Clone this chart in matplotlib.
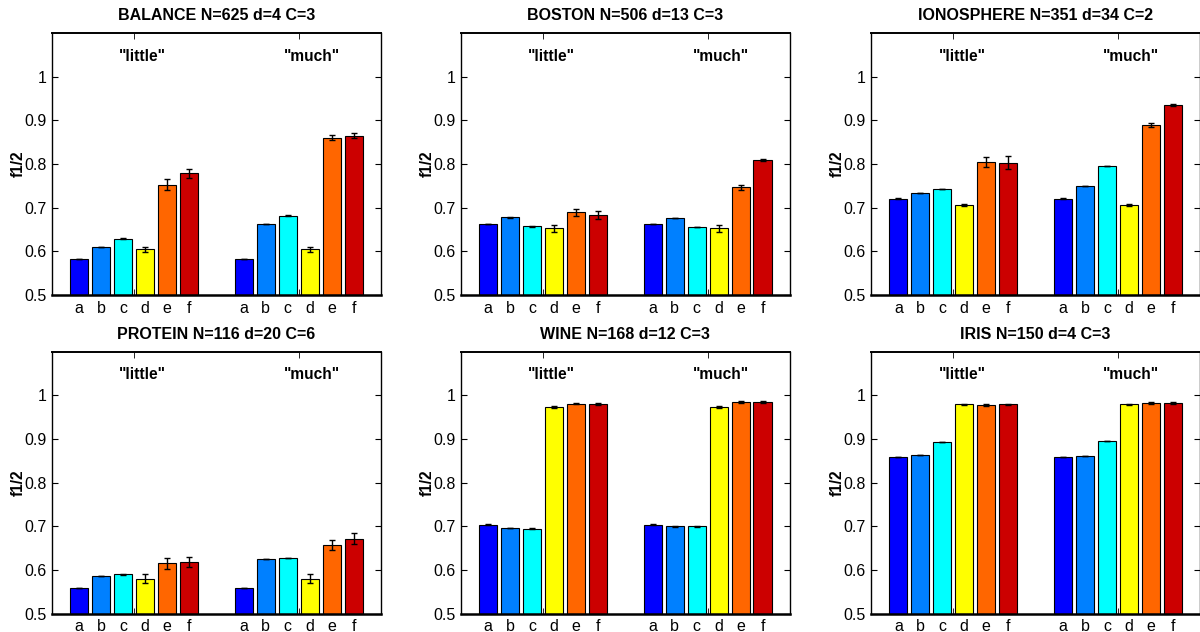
import numpy as np
import matplotlib
matplotlib.use("Agg")
import matplotlib.pyplot as plt

plt.rcParams["font.family"] = ["Liberation Sans", "DejaVu Sans"]

# =========================
# DATA
# =========================
methods = ["a", "b", "c", "d", "e", "f"]
groups = ['"little"', '"much"']
colors = ["#0000ff", "#0080ff", "#00ffff", "#ffff00", "#ff6600", "#cc0000"]

titles = [
    "BALANCE N=625 d=4 C=3",
    "BOSTON N=506 d=13 C=3",
    "IONOSPHERE N=351 d=34 C=2",
    "PROTEIN N=116 d=20 C=6",
    "WINE N=168 d=12 C=3",
    "IRIS N=150 d=4 C=3",
]

balance_little = [0.582, 0.610, 0.629, 0.605, 0.753, 0.779]
balance_much = [0.582, 0.662, 0.682, 0.605, 0.860, 0.865]
balance_err_little = [0.0005, 0.0005, 0.0005, 0.006, 0.012, 0.010]
balance_err_much = [0.0005, 0.0005, 0.0005, 0.006, 0.006, 0.005]

boston_little = [0.662, 0.678, 0.657, 0.653, 0.689, 0.683]
boston_much = [0.662, 0.677, 0.656, 0.653, 0.747, 0.810]
boston_err_little = [0.0005, 0.0005, 0.0005, 0.008, 0.007, 0.010]
boston_err_much = [0.0005, 0.0005, 0.0005, 0.008, 0.006, 0.002]

iono_little = [0.721, 0.734, 0.743, 0.706, 0.805, 0.803]
iono_much = [0.721, 0.750, 0.795, 0.706, 0.889, 0.935]
iono_err_little = [0.0005, 0.0005, 0.0005, 0.002, 0.012, 0.015]
iono_err_much = [0.0005, 0.0005, 0.0005, 0.002, 0.005, 0.002]

protein_little = [0.559, 0.586, 0.590, 0.580, 0.615, 0.618]
protein_much = [0.559, 0.625, 0.628, 0.580, 0.657, 0.672]
protein_err_little = [0.0005, 0.0005, 0.0005, 0.010, 0.012, 0.012]
protein_err_much = [0.0005, 0.0005, 0.0005, 0.010, 0.012, 0.013]

wine_little = [0.704, 0.696, 0.695, 0.974, 0.981, 0.980]
wine_much = [0.704, 0.700, 0.700, 0.974, 0.985, 0.985]
wine_err_little = [0.0005, 0.0005, 0.0005, 0.002, 0.002, 0.002]
wine_err_much = [0.0005, 0.0005, 0.0005, 0.002, 0.002, 0.002]

iris_little = [0.859, 0.863, 0.893, 0.979, 0.977, 0.979]
iris_much = [0.859, 0.861, 0.895, 0.979, 0.982, 0.983]
iris_err_little = [0.0005, 0.0005, 0.0005, 0.002, 0.002, 0.002]
iris_err_much = [0.0005, 0.0005, 0.0005, 0.002, 0.002, 0.002]

panels = [
    (balance_little, balance_much, balance_err_little, balance_err_much),
    (boston_little, boston_much, boston_err_little, boston_err_much),
    (iono_little, iono_much, iono_err_little, iono_err_much),
    (protein_little, protein_much, protein_err_little, protein_err_much),
    (wine_little, wine_much, wine_err_little, wine_err_much),
    (iris_little, iris_much, iris_err_little, iris_err_much),
]

yticks = [0.5, 0.6, 0.7, 0.8, 0.9, 1.0]
ytick_labels = ["0.5", "0.6", "0.7", "0.8", "0.9", "1"]

# =========================
# LAYOUT
# =========================
fig = plt.figure(figsize=(12, 6.32), dpi=100)

lefts = [0.0431, 0.3839, 0.7258]
bottoms = [0.5332, 0.0290]
width = 0.2744
height = 0.4146

step = 0.8 / len(methods)
bar_w = 0.11


def plot_panel(ax, data, title):
    little, much, err_l, err_m = data
    xs_all = []
    for g, (vals, errs) in enumerate([(little, err_l), (much, err_m)]):
        center = g + 1
        xs = [center + (i - 2.5) * step for i in range(len(methods))]
        xs_all += xs
        ax.bar(xs, np.array(vals) - 0.5, bottom=0.5, width=bar_w,
               color=colors, edgecolor="black", linewidth=0.8, zorder=2)
        ax.errorbar(xs, vals, yerr=errs, fmt="none", ecolor="black",
                    elinewidth=1, capsize=2, capthick=1, zorder=3)
        ax.text(center - 0.09, 1.047, groups[g], ha="left", va="center",
                fontsize=11.2, fontweight="bold")

    ax.set_xlim(0.5, 2.5)
    ax.set_ylim(0.5, 1.1)
    ax.set_yticks(yticks)
    ax.set_yticklabels(ytick_labels, fontsize=11.5)
    ax.set_xticks(xs_all)
    ax.set_xticklabels(methods * 2, fontsize=11.5)
    ax.tick_params(axis="x", which="major", length=0, pad=4)
    ax.set_xticks([1, 2], minor=True)
    ax.tick_params(axis="x", which="minor", direction="in", length=4,
                   top=True, bottom=True)
    ax.tick_params(axis="y", direction="in", length=4, right=True)
    ax.set_ylabel("f1/2", fontsize=11.2, fontweight="bold", labelpad=-1)
    ax.set_title(title, fontsize=11.5, fontweight="bold", pad=9)
    for s in ax.spines.values():
        s.set_linewidth(1.0)
    ax.spines["bottom"].set_linewidth(1.8)
    ax.spines["top"].set_linewidth(1.4)


k = 0
for r in range(2):
    for c in range(3):
        ax = fig.add_axes([lefts[c], bottoms[r], width, height])
        plot_panel(ax, panels[k], titles[k])
        k += 1

fig.savefig("out.png", dpi=100)
